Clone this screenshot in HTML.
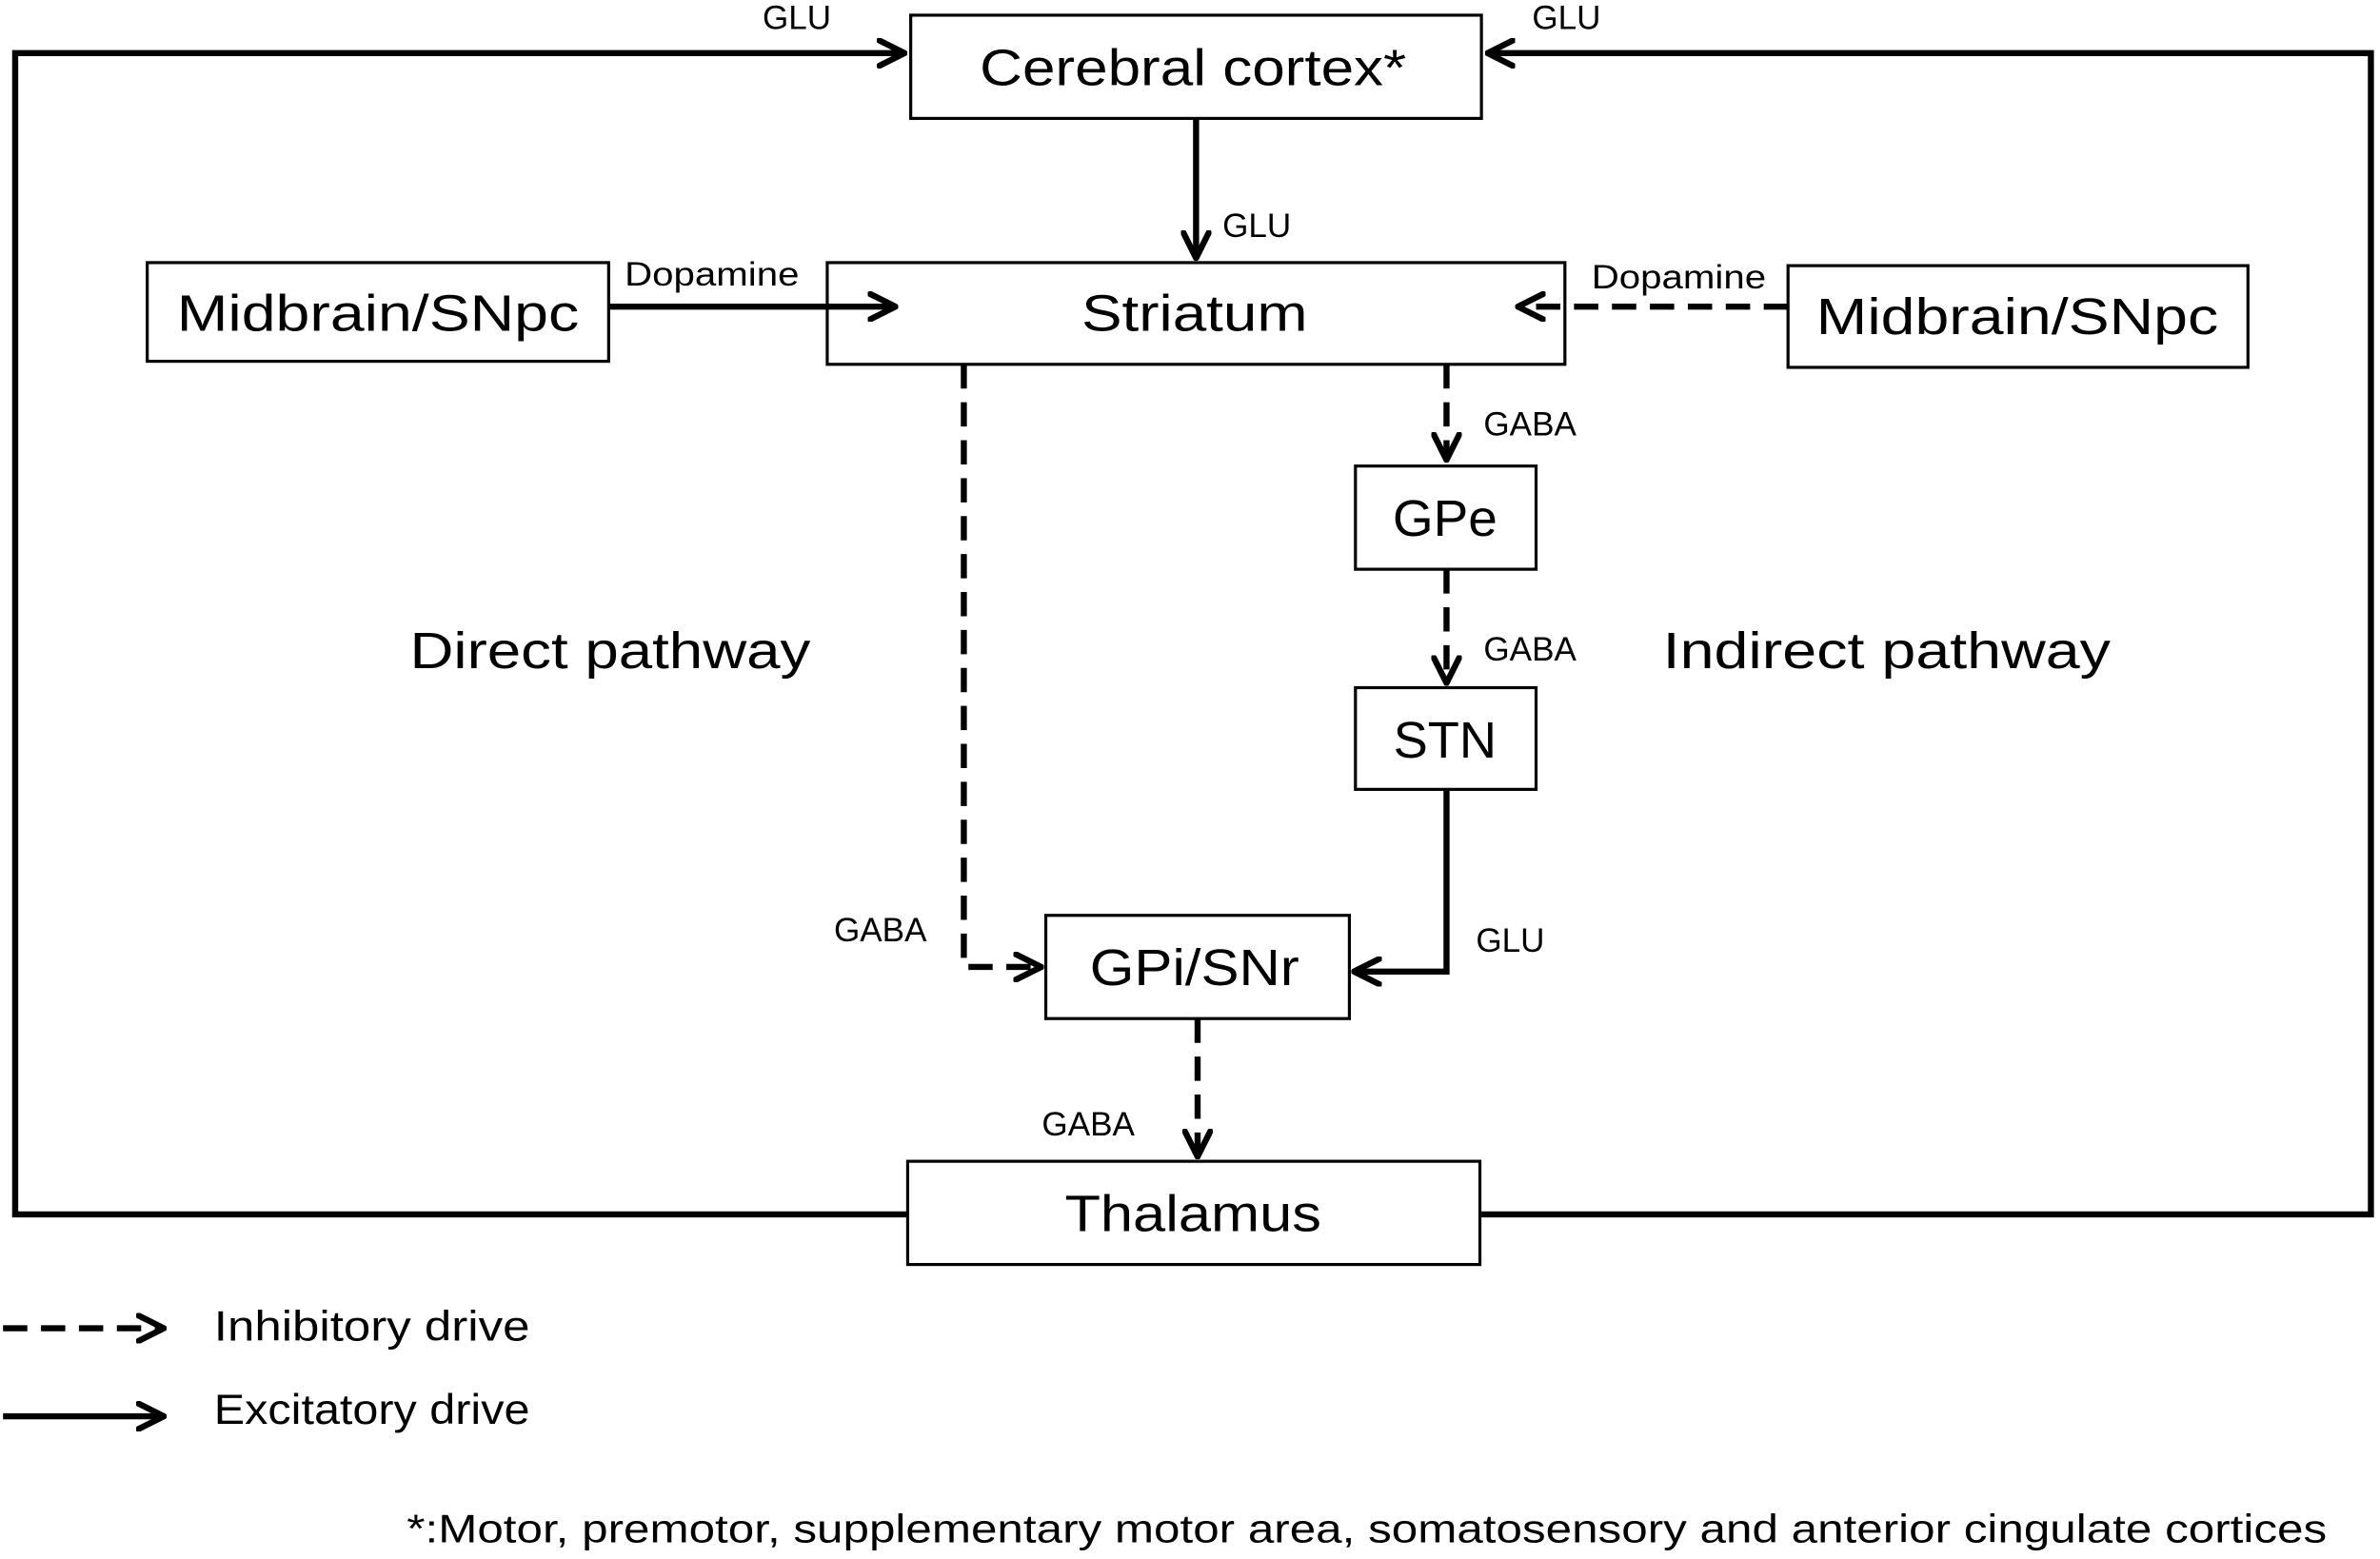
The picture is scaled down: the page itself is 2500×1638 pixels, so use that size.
<!DOCTYPE html>
<html><head><meta charset="utf-8"><style>
html,body{margin:0;padding:0;background:#fff;}
svg{display:block;}
text{font-family:"Liberation Sans","DejaVu Sans",sans-serif;fill:#000;}
</style></head><body>
<svg width="2500" height="1638" viewBox="0 0 1568 1027" preserveAspectRatio="none" xmlns="http://www.w3.org/2000/svg">
<defs>
<marker id="a" viewBox="0 0 12 12" refX="11" refY="6" markerWidth="5" markerHeight="5" markerUnits="strokeWidth" orient="auto">
<path d="M1,1 L11,6 L1,11" fill="none" stroke="#000" stroke-width="2.4" stroke-linecap="round" stroke-linejoin="round"/>
</marker>
</defs>
<g fill="none" stroke="#000" stroke-width="2">
<rect x="600" y="10" width="376" height="68"/>
<rect x="545" y="173" width="486" height="67"/>
<rect x="97" y="173" width="304" height="65"/>
<rect x="1178" y="175" width="303" height="67"/>
<rect x="893" y="307" width="119" height="68"/>
<rect x="893" y="453" width="119" height="67"/>
<rect x="689" y="603" width="200" height="68"/>
<rect x="598" y="765" width="377" height="68"/>
</g>
<g fill="none" stroke="#000" stroke-width="4">
<polyline points="598,800 10,800 10,35 596,35" marker-end="url(#a)"/>
<polyline points="976,800 1562,800 1562,35 980,35" marker-end="url(#a)"/>
<line x1="788" y1="78" x2="788" y2="170" marker-end="url(#a)"/>
<line x1="401" y1="202" x2="590" y2="202" marker-end="url(#a)"/>
<polyline points="953,520 953,640 892,640" marker-end="url(#a)"/>
<line x1="2" y1="933" x2="108" y2="933" marker-end="url(#a)"/>
</g>
<g fill="none" stroke="#000" stroke-width="4" stroke-dasharray="16,9">
<line x1="1178" y1="202" x2="1000" y2="202" marker-end="url(#a)"/>
<polyline points="635,240 635,637 686,637" marker-end="url(#a)"/>
<line x1="953" y1="240" x2="953" y2="303" marker-end="url(#a)"/>
<line x1="953" y1="375" x2="953" y2="450" marker-end="url(#a)"/>
<line x1="789" y1="671" x2="789" y2="762" marker-end="url(#a)"/>
<line x1="2" y1="875" x2="108" y2="875" marker-end="url(#a)"/>
</g>
<g font-size="34" text-anchor="middle" lengthAdjust="spacingAndGlyphs">
<text x="786" y="56" textLength="281" lengthAdjust="spacingAndGlyphs">Cerebral cortex*</text>
<text x="787" y="218" textLength="149" lengthAdjust="spacingAndGlyphs">Striatum</text>
<text x="249" y="218" textLength="265" lengthAdjust="spacingAndGlyphs">Midbrain/SNpc</text>
<text x="1329" y="220" textLength="265" lengthAdjust="spacingAndGlyphs">Midbrain/SNpc</text>
<text x="952" y="353" textLength="69" lengthAdjust="spacingAndGlyphs">GPe</text>
<text x="952" y="499" textLength="68" lengthAdjust="spacingAndGlyphs">STN</text>
<text x="787" y="649" textLength="138" lengthAdjust="spacingAndGlyphs">GPi/SNr</text>
<text x="786" y="811" textLength="169" lengthAdjust="spacingAndGlyphs">Thalamus</text>
<text x="402" y="440" textLength="264" lengthAdjust="spacingAndGlyphs">Direct pathway</text>
<text x="1243" y="440" textLength="295" lengthAdjust="spacingAndGlyphs">Indirect pathway</text>
</g>
<g font-size="22" text-anchor="middle">
<text x="525" y="19">GLU</text>
<text x="1032" y="19">GLU</text>
<text x="828" y="156">GLU</text>
<text x="469" y="188" textLength="115" lengthAdjust="spacingAndGlyphs">Dopamine</text>
<text x="1106" y="190" textLength="115" lengthAdjust="spacingAndGlyphs">Dopamine</text>
<text x="1008" y="287">GABA</text>
<text x="1008" y="435">GABA</text>
<text x="580" y="620">GABA</text>
<text x="995" y="627">GLU</text>
<text x="717" y="748">GABA</text>
</g>
<g font-size="28">
<text x="141" y="883" textLength="208" lengthAdjust="spacingAndGlyphs">Inhibitory drive</text>
<text x="141" y="938" textLength="208" lengthAdjust="spacingAndGlyphs">Excitatory drive</text>
</g>
<text x="268" y="1016" font-size="26" textLength="1265" lengthAdjust="spacingAndGlyphs">*:Motor, premotor, supplementary motor area, somatosensory and anterior cingulate cortices</text>
</svg>
</body></html>
